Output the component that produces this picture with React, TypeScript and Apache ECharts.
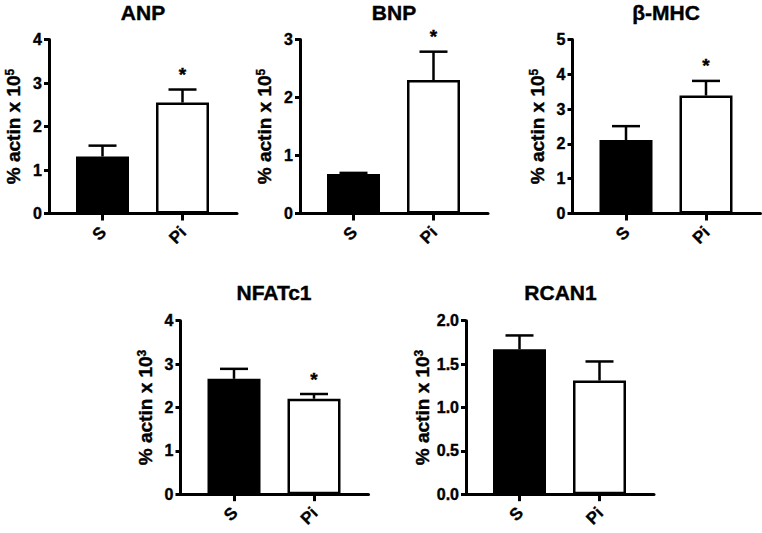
import React, { useEffect, useRef } from "react";
import * as echarts from "echarts";

const groups = ["S", "Pi"];

const titles = ["ANP", "BNP", "β-MHC", "NFATc1", "RCAN1"];
const exponents = ["5", "5", "5", "3", "3"];

const anpMean = [1.31, 2.55];
const anpSem = [0.25, 0.3];
const bnpMean = [0.68, 2.3];
const bnpSem = [0.02, 0.49];
const mhcMean = [2.11, 3.39];
const mhcSem = [0.4, 0.42];
const nfatMean = [2.66, 2.2];
const nfatSem = [0.23, 0.11];
const rcanMean = [1.67, 1.31];
const rcanSem = [0.16, 0.22];

const anpStars = ["", "*"];
const bnpStars = ["", "*"];
const mhcStars = ["", "*"];
const nfatStars = ["", "*"];
const rcanStars = ["", ""];

const yMax = [4, 3, 5, 4, 2];
const yInterval = [1, 1, 1, 1, 0.5];
const yDecimals = [0, 0, 0, 0, 1];

const means = [anpMean, bnpMean, mhcMean, nfatMean, rcanMean];
const sems = [anpSem, bnpSem, mhcSem, nfatSem, rcanSem];
const stars = [anpStars, bnpStars, mhcStars, nfatStars, rcanStars];

// layout (pixels): y-axis line x, plot top, plot height, title center x, title top
const panelLayout = [
  { ax: 49, top: 39.5, h: 174, tx: 143, ty: 2 },
  { ax: 300, top: 39.5, h: 174, tx: 394, ty: 2 },
  { ax: 572.5, top: 39.5, h: 174, tx: 666, ty: 2 },
  { ax: 180.5, top: 320.7, h: 173.5, tx: 274, ty: 282 },
  { ax: 466, top: 320.7, h: 173.5, tx: 560.5, ty: 282 },
];
const FRAME_W = 188;
const INNER_OFF = 13.5;
const INNER_W = 160;

const FONT = "Liberation Sans, Arial, sans-serif";
const HEAVY = { textBorderColor: "#000", textBorderWidth: 0.4 };

export default function App() {
  const ref = useRef<HTMLDivElement>(null);
  useEffect(() => {
    if (!ref.current) return;
    const chart = echarts.init(ref.current, null, { renderer: "svg" });

    const grid: any[] = [];
    const xAxis: any[] = [];
    const yAxis: any[] = [];
    const series: any[] = [];
    const title: any[] = [];

    panelLayout.forEach((p, i) => {
      grid.push({ left: p.ax, top: p.top, width: FRAME_W, height: p.h });
      grid.push({ left: p.ax + INNER_OFF, top: p.top, width: INNER_W, height: p.h });

      xAxis.push({
        type: "category",
        gridIndex: 2 * i,
        data: groups,
        axisLine: { show: true, lineStyle: { color: "#000", width: 3 } },
        axisTick: { show: false },
        axisLabel: { show: false },
        splitLine: { show: false },
        z: 5,
      });
      xAxis.push({
        type: "category",
        gridIndex: 2 * i + 1,
        data: groups,
        axisLine: { show: false },
        axisTick: { show: true, alignWithLabel: true, length: 7, lineStyle: { color: "#000", width: 3 } },
        axisLabel: { show: false },
        splitLine: { show: false },
      });

      const dec = yDecimals[i];
      yAxis.push({
        type: "value",
        gridIndex: 2 * i,
        min: 0,
        max: yMax[i],
        interval: yInterval[i],
        axisLine: { show: true, lineStyle: { color: "#000", width: 3 } },
        axisTick: { show: true, length: 5, lineStyle: { color: "#000", width: 3 } },
        axisLabel: {
          show: true,
          margin: 7,
          color: "#000",
          fontFamily: FONT,
          fontWeight: "bold",
          fontSize: 16,
          ...HEAVY,
          formatter: (v: number) => v.toFixed(dec),
        },
        splitLine: { show: false },
        name: `{a|% actin x 10}{b|${exponents[i]}}`,
        nameLocation: "middle",
        nameRotate: 90,
        nameGap: 26,
        nameTextStyle: {
          color: "#000",
          fontFamily: FONT,
          fontWeight: "bold",
          fontSize: 19,
          rich: {
            a: { fontFamily: FONT, fontWeight: "bold", fontSize: 19, color: "#000", verticalAlign: "bottom", ...HEAVY },
            b: { fontFamily: FONT, fontWeight: "bold", fontSize: 12, color: "#000", verticalAlign: "top", ...HEAVY },
          },
        },
        z: 5,
      });
      yAxis.push({
        type: "value",
        gridIndex: 2 * i + 1,
        min: 0,
        max: yMax[i],
        interval: yInterval[i],
        show: false,
      });

      const m = means[i];
      const s = sems[i];
      const st = stars[i];

      series.push({
        type: "bar",
        xAxisIndex: 2 * i + 1,
        yAxisIndex: 2 * i + 1,
        barWidth: 53,
        data: m.map((v, j) => ({
          value: v,
          itemStyle: {
            color: j === 0 ? "#000" : "#fff",
            borderColor: "#000",
            borderWidth: 2.5,
          },
        })),
        z: 2,
      });

      series.push({
        type: "custom",
        xAxisIndex: 2 * i + 1,
        yAxisIndex: 2 * i + 1,
        clip: false,
        data: m.map((v, j) => [j, v, s[j]]),
        renderItem: (params: any, api: any) => {
          const idx = api.value(0);
          const mean = api.value(1);
          const sem = api.value(2);
          const base = api.coord([idx, mean]);
          const top = api.coord([idx, mean + sem]);
          const cap = 14;
          const star = st[params.dataIndex];
          const children: any[] = [
            {
              type: "line",
              shape: { x1: base[0], y1: base[1], x2: top[0], y2: top[1] },
              style: { stroke: "#000", lineWidth: 2.5 },
            },
            {
              type: "line",
              shape: { x1: top[0] - cap, y1: top[1], x2: top[0] + cap, y2: top[1] },
              style: { stroke: "#000", lineWidth: 2.5 },
            },
          ];
          if (star) {
            children.push({
              type: "text",
              x: top[0],
              y: top[1] - 15,
              style: {
                text: star,
                fill: "#000",
                stroke: "#000",
                lineWidth: 0.4,
                fontFamily: FONT,
                fontWeight: "bold",
                fontSize: 19,
                align: "center",
                verticalAlign: "middle",
              },
            });
          }
          return { type: "group", children };
        },
        z: 3,
      });

      title.push({
        text: titles[i],
        left: p.tx,
        top: p.ty,
        textAlign: "center",
        textStyle: { color: "#000", fontFamily: FONT, fontWeight: "bold", fontSize: 21, ...HEAVY },
        padding: 0,
      });
    });

    chart.setOption({
      animation: false,
      backgroundColor: "#fff",
      title,
      grid,
      xAxis,
      yAxis,
      series,
    });

    // rotated category labels, placed from the axes' own scales
    const labels: any[] = [];
    panelLayout.forEach((_p, i) => {
      groups.forEach((g, j) => {
        const pt = chart.convertToPixel({ gridIndex: 2 * i + 1 }, [j, 0]) as number[];
        if (!pt) return;
        labels.push({
          type: "group",
          x: pt[0] + 1,
          y: pt[1] + 16,
          rotation: Math.PI / 4,
          children: [
            {
              type: "text",
              style: {
                text: g,
                fontSize: 17,
                fontWeight: "bold",
                fill: "#000",
                stroke: "#000",
                lineWidth: 0.3,
                align: "right",
                verticalAlign: "middle",
              },
            },
          ],
        });
      });
    });
    chart.setOption({ graphic: labels });

    return () => chart.dispose();
  }, []);

  return (
    <div
      ref={ref}
      style={{ position: "fixed", left: 0, top: 0, width: 762, height: 533, background: "#fff" }}
    />
  );
}
